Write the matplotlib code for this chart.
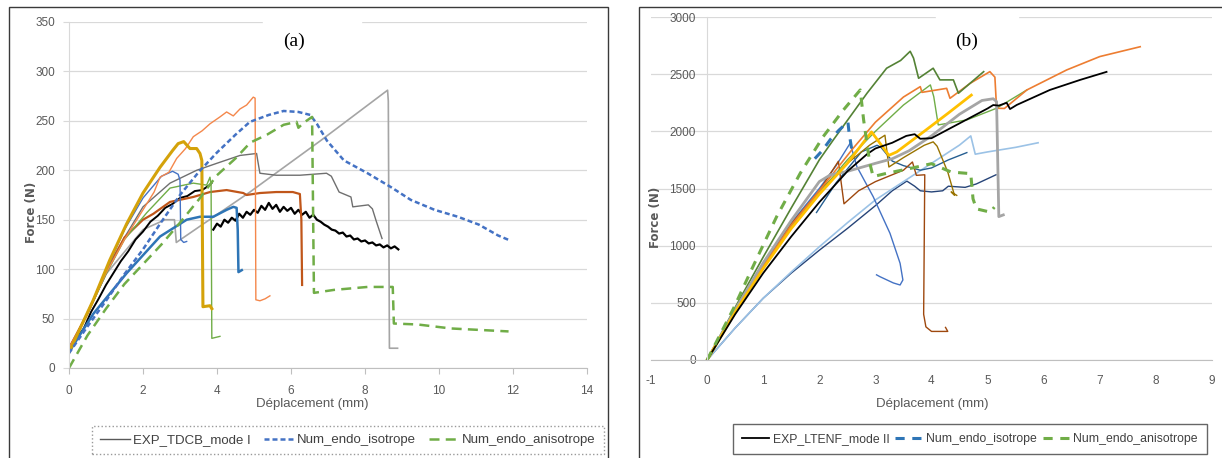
import matplotlib
matplotlib.use("Agg")
import matplotlib.pyplot as plt
from matplotlib.lines import Line2D
from matplotlib.patches import Rectangle

plt.rcParams["axes.unicode_minus"] = False

# ---------------- panel (a) : mode I, force (N) vs displacement (mm)
a_gold_x = [0, 0.3, 0.66, 1.1, 1.56, 2.0, 2.46, 2.8, 2.95, 3.1, 3.27, 3.45, 3.54, 3.59, 3.62, 3.81, 3.86]
a_gold_y = [16, 40, 69, 109, 146, 177, 203, 220, 227, 229, 222, 222, 217, 210, 62, 63, 60]

a_orange_x = [0, 0.5, 1.0, 1.5, 2.0, 2.3, 2.46, 2.7, 2.91, 3.15, 3.36, 3.6, 3.81, 4.08, 4.26, 4.44, 4.62, 4.8, 4.98, 5.03, 5.05, 5.16, 5.3, 5.43]
a_orange_y = [20, 55, 96, 130, 160, 178, 193, 198, 212, 222, 234, 240, 247, 254, 259, 255, 262, 266, 274, 273, 69, 68, 70, 73]

a_blue_x = [0, 0.5, 1.0, 1.5, 2.0, 2.5, 2.8, 2.95, 3.0, 3.02, 3.1, 3.18]
a_blue_y = [17, 55, 98, 140, 172, 194, 199, 196, 190, 130, 127, 128]

a_gray_x = [0, 0.5, 1.0, 1.5, 2.0, 2.73, 3.45, 3.99, 4.62, 5.07, 5.1, 5.16, 5.6, 6.24, 6.96, 7.09, 7.3, 7.62, 7.67, 8.09, 8.2, 8.3, 8.46]
a_gray_y = [20, 55, 95, 132, 163, 187, 200, 207, 215, 217, 210, 197, 195, 195, 197, 194, 178, 173, 163, 165, 161, 149, 131]

a_lgray_x = [0, 1.0, 2.0, 2.6, 2.85, 2.9, 4.89, 6.8, 8.61, 8.63, 8.66, 8.88]
a_lgray_y = [18, 95, 140, 150, 150, 127, 178, 230, 281, 270, 20, 20]

a_brown_x = [0, 0.5, 1.0, 1.5, 2.0, 2.28, 2.73, 3.36, 3.81, 4.26, 4.71, 4.8, 5.16, 5.6, 6.05, 6.24, 6.28, 6.3]
a_brown_y = [20, 55, 98, 132, 150, 156, 168, 173, 178, 180, 177, 175, 177, 178, 178, 176, 150, 84]

a_green_x = [0, 0.5, 1.0, 1.5, 2.1, 2.73, 3.36, 3.72, 3.81, 3.84, 3.86, 4.08]
a_green_y = [18, 55, 95, 130, 157, 182, 187, 185, 193, 185, 30, 32]

a_dblue_x = [0, 0.66, 1.56, 2.46, 3.18, 3.54, 3.9, 4.26, 4.44, 4.53, 4.56, 4.58, 4.67]
a_dblue_y = [16, 55, 96, 133, 150, 153, 153, 160, 163, 162, 140, 97, 99]

a_black1_x = [0, 0.2, 0.4, 0.6, 0.8, 1.0, 1.2, 1.4, 1.6, 1.8, 2.0, 2.2, 2.4, 2.6, 2.8, 3.0, 3.2, 3.4, 3.6, 3.8, 3.85]
a_black1_y = [15, 30, 40, 57, 70, 84, 96, 108, 118, 130, 138, 148, 154, 162, 166, 172, 174, 179, 180, 185, 187]

a_black2_x = [3.9, 4.0, 4.1, 4.2, 4.3, 4.4, 4.5, 4.6, 4.7, 4.8, 4.9, 5.0, 5.1, 5.2, 5.3, 5.4, 5.5,
              5.6, 5.7, 5.8, 5.9, 6.0, 6.1, 6.2, 6.3, 6.4, 6.5, 6.6, 6.7, 6.8, 6.9, 7.0, 7.1, 7.2,
              7.3, 7.4, 7.5, 7.6, 7.7, 7.8, 7.9, 8.0, 8.1, 8.2, 8.3, 8.4, 8.5, 8.6, 8.7, 8.8, 8.9]
a_black2_y = [140, 146, 143, 150, 147, 152, 149, 156, 152, 158, 155, 160, 157, 164, 160, 167, 161,
              165, 158, 163, 159, 162, 156, 160, 155, 158, 152, 155, 150, 148, 145, 143, 140, 139,
              136, 137, 133, 134, 130, 131, 128, 129, 126, 127, 124, 125, 122, 124, 121, 123, 120]

a_iso_x = [0, 0.5, 1.0, 1.5, 2.0, 2.5, 3.0, 3.5, 4.0, 4.5, 4.89, 5.4, 5.8, 6.2, 6.52, 6.7, 6.97, 7.43, 8.07, 8.7, 9.24, 9.88, 10.51, 11.08, 11.6, 11.92]
a_iso_y = [15, 42, 68, 95, 120, 148, 175, 198, 218, 236, 249, 256, 260, 259, 256, 247, 230, 210, 197, 183, 170, 160, 153, 145, 134, 129]

a_aniso_x = [0, 0.5, 1.0, 1.5, 2.0, 2.5, 3.0, 3.5, 4.0, 4.5, 4.9, 5.35, 5.8, 6.15, 6.2, 6.34, 6.57, 6.62, 7.16, 8.07, 8.75, 8.78, 9.43, 10.32, 11.88]
a_aniso_y = [0, 33, 60, 85, 105, 125, 147, 170, 195, 212, 228, 236, 246, 249, 243, 248, 254, 76, 79, 82, 82, 45, 44, 40, 37]

# ---------------- panel (b) : mode II
b_black_x = [0, 0.5, 1.0, 1.5, 2.0, 2.5, 2.85, 3.0, 3.3, 3.55, 3.7, 3.8, 4.0, 4.5, 5.0, 5.1, 5.2, 5.34, 5.4, 5.52, 6.11, 6.65, 7.12]
b_black_y = [0, 400, 760, 1080, 1380, 1650, 1800, 1850, 1900, 1960, 1975, 1935, 1940, 2070, 2200, 2230, 2225, 2250, 2195, 2231, 2362, 2450, 2520]

b_dgreen_x = [0, 0.5, 1.0, 1.5, 2.0, 2.25, 2.85, 3.2, 3.45, 3.62, 3.68, 3.77, 4.03, 4.15, 4.39, 4.48, 4.93]
b_dgreen_y = [0, 460, 900, 1330, 1750, 1925, 2333, 2552, 2620, 2700, 2640, 2464, 2552, 2450, 2450, 2333, 2522]

b_orange_x = [0, 0.5, 1.0, 1.5, 2.0, 2.6, 3.0, 3.5, 3.8, 3.83, 4.27, 4.33, 4.69, 5.04, 5.13, 5.16, 5.3, 5.7, 6.41, 7.0, 7.72]
b_orange_y = [0, 420, 820, 1180, 1480, 1850, 2080, 2300, 2391, 2341, 2376, 2289, 2420, 2522, 2474, 2202, 2200, 2362, 2537, 2654, 2740]

b_lgreen_x = [0, 0.5, 1.0, 1.5, 2.0, 2.5, 3.0, 3.5, 3.98, 4.04, 4.12, 4.63, 5.16, 5.7]
b_lgreen_y = [0, 420, 820, 1170, 1460, 1750, 2000, 2230, 2406, 2304, 2056, 2100, 2202, 2362]

b_yellow_x = [0, 0.5, 1.0, 1.5, 2.0, 2.5, 2.93, 3.0, 3.24, 3.38, 3.87, 4.3, 4.71]
b_yellow_y = [0, 420, 800, 1150, 1450, 1720, 1995, 1950, 1790, 1820, 2000, 2160, 2317]

b_gray_x = [0, 0.5, 1.0, 1.5, 2.0, 2.2, 2.5, 3.0, 3.3, 3.6, 4.0, 4.5, 4.9, 5.1, 5.16, 5.2, 5.28]
b_gray_y = [0, 440, 850, 1220, 1560, 1620, 1650, 1720, 1760, 1830, 1960, 2150, 2270, 2285, 2260, 1254, 1269]

b_lblue_x = [0, 0.5, 1.0, 1.5, 2.0, 2.5, 3.0, 3.5, 4.0, 4.5, 4.7, 4.78, 5.0, 5.5, 5.9]
b_lblue_y = [0, 280, 540, 770, 990, 1200, 1400, 1560, 1720, 1880, 1960, 1800, 1820, 1860, 1900]

b_navy_x = [0, 0.5, 1.0, 1.5, 2.0, 2.5, 3.0, 3.3, 3.56, 3.7, 3.8, 4.0, 4.2, 4.3, 4.6, 4.8, 5.15]
b_navy_y = [0, 280, 540, 760, 960, 1150, 1350, 1480, 1565, 1520, 1480, 1470, 1480, 1520, 1510, 1540, 1620]

b_mblue_x = [1.95, 2.3, 2.75, 3.03, 3.1, 3.3, 3.5, 3.8, 4.0, 4.3, 4.63]
b_mblue_y = [1290, 1550, 1820, 1878, 1860, 1740, 1700, 1660, 1680, 1750, 1814]

b_snap_x = [0, 0.5, 1.0, 1.5, 2.0, 2.3, 2.55, 2.67, 2.96, 3.26, 3.44, 3.49, 3.44, 3.32, 3.08, 3.02]
b_snap_y = [0, 430, 830, 1200, 1500, 1700, 1896, 1691, 1429, 1108, 846, 700, 656, 674, 729, 745]

b_brown_x = [0, 0.5, 1.0, 1.5, 2.0, 2.34, 2.44, 2.7, 3.0, 3.5, 3.66, 3.73, 3.88, 3.87, 3.86, 3.9, 4.0, 4.29, 4.25]
b_brown_y = [0, 430, 830, 1190, 1480, 1738, 1366, 1480, 1560, 1660, 1732, 1615, 1620, 1000, 400, 290, 250, 250, 285]

b_olive_x = [0, 0.5, 1.0, 1.5, 2.0, 2.5, 2.9, 3.17, 3.24, 3.5, 3.87, 4.03, 4.1, 4.29, 4.41, 4.35, 4.45]
b_olive_y = [0, 430, 820, 1180, 1480, 1720, 1880, 1966, 1688, 1770, 1878, 1908, 1870, 1644, 1440, 1470, 1440]

b_iso_x = [1.92, 2.05, 2.2, 2.35, 2.51, 2.53, 2.58]
b_iso_y = [1761, 1830, 1930, 2010, 2083, 1990, 1837]

b_aniso_x = [0, 0.47, 0.83, 1.24, 1.66, 2.07, 2.43, 2.73, 2.79, 2.9, 2.96, 3.2, 3.6, 4.0, 4.35, 4.7, 4.74, 4.8, 5.05, 5.12]
b_aniso_y = [0, 450, 830, 1254, 1633, 1954, 2187, 2362, 2100, 1721, 1604, 1633, 1673, 1717, 1644, 1630, 1410, 1322, 1293, 1337]

legend_a = ["EXP_TDCB_mode I", "Num_endo_isotrope", "Num_endo_anisotrope"]
legend_b = ["EXP_LTENF_mode II", "Num_endo_isotrope", "Num_endo_anisotrope"]

SANS = ["Liberation Sans", "DejaVu Sans"]
TXT = "#595959"
GRID = "#D9D9D9"

W, H = 1222, 458
fig = plt.figure(figsize=(W / 100, H / 100), dpi=100)


def px(x0, y0, x1, y1):
    # pixel box (top-left origin) -> figure fraction rect
    return [x0 / W, 1 - y1 / H, (x1 - x0) / W, (y1 - y0) / H]


axa = fig.add_axes(px(69, 22, 587, 368))
axb = fig.add_axes(px(651, 17, 1212, 360))

# panel (a) curves
axa.plot(a_lgray_x, a_lgray_y, color="#A5A5A5", lw=1.2)
axa.plot(a_gray_x, a_gray_y, color="#6F6F6F", lw=1.0)
axa.plot(a_black1_x, a_black1_y, color="black", lw=1.4)
axa.plot(a_black2_x, a_black2_y, color="black", lw=1.6)
axa.plot(a_brown_x, a_brown_y, color="#C0561A", lw=1.6)
axa.plot(a_green_x, a_green_y, color="#70AD47", lw=1.0)
axa.plot(a_blue_x, a_blue_y, color="#4472C4", lw=1.0)
axa.plot(a_orange_x, a_orange_y, color="#F4874B", lw=1.0)
axa.plot(a_dblue_x, a_dblue_y, color="#2E75B6", lw=1.8)
axa.plot(a_gold_x, a_gold_y, color="#D4A20A", lw=2.2)
axa.plot(a_iso_x, a_iso_y, color="#4472C4", lw=1.8, dashes=(2, 1.2))
axa.plot(a_aniso_x, a_aniso_y, color="#70AD47", lw=1.8, dashes=(4, 2.5))

# panel (b) curves
axb.plot(b_navy_x, b_navy_y, color="#264478", lw=1.0)
axb.plot(b_lblue_x, b_lblue_y, color="#9BC2E6", lw=1.2)
axb.plot(b_mblue_x, b_mblue_y, color="#255E91", lw=1.0)
axb.plot(b_snap_x, b_snap_y, color="#4472C4", lw=1.0)
axb.plot(b_brown_x, b_brown_y, color="#9E480E", lw=1.0)
axb.plot(b_olive_x, b_olive_y, color="#997300", lw=1.0)
axb.plot(b_lgreen_x, b_lgreen_y, color="#70AD47", lw=1.0)
axb.plot(b_orange_x, b_orange_y, color="#ED7D31", lw=1.2)
axb.plot(b_dgreen_x, b_dgreen_y, color="#548235", lw=1.2)
axb.plot(b_gray_x, b_gray_y, color="#A5A5A5", lw=2.0)
axb.plot(b_yellow_x, b_yellow_y, color="#FFC000", lw=2.0)
axb.plot(b_black_x, b_black_y, color="black", lw=1.3)
axb.plot(b_iso_x, b_iso_y, color="#2E75B6", lw=2.2, dashes=(3, 2.5))
axb.plot(b_aniso_x, b_aniso_y, color="#70AD47", lw=2.2, dashes=(3, 2.5))

# axes styling
axa.set_xlim(0, 14)
axa.set_ylim(0, 350)
axa.set_xticks(range(0, 15, 2))
axa.set_yticks(range(0, 351, 50))
axb.set_xlim(-1, 9)
axb.set_ylim(0, 3000)
axb.set_xticks(range(-1, 10))
axb.set_yticks(range(0, 3001, 500))
axb.spines["left"].set_position(("data", 0))

for ax in (axa, axb):
    ax.grid(axis="y", color=GRID, lw=0.9)
    ax.set_axisbelow(True)
    ax.spines["top"].set_visible(False)
    ax.spines["right"].set_visible(False)
    ax.spines["left"].set_color(GRID)
    ax.spines["bottom"].set_color("#BFBFBF")
    for lab in ax.get_xticklabels() + ax.get_yticklabels():
        lab.set_family(SANS)

axa.tick_params(axis="y", length=4, color=GRID, labelcolor=TXT, labelsize=8.5, pad=6)
axa.tick_params(axis="x", length=4, color="#BFBFBF", labelcolor=TXT, labelsize=8.5, pad=8)
axb.tick_params(axis="y", length=0, labelcolor=TXT, labelsize=8.5, pad=8)
axb.tick_params(axis="x", length=0, labelcolor=TXT, labelsize=8.5, pad=11)

# white patches behind the panel labels
axa.add_patch(Rectangle((5.24, 320), 2.65, 45, color="white", zorder=1.5, clip_on=False))
axb.add_patch(Rectangle((4.08, 2820), 1.46, 260, color="white", zorder=1.5, clip_on=False))

fig.text(294 / W, 1 - 41 / H, "(a)", family="Liberation Serif", fontsize=14, ha="center", va="center")
fig.text(967 / W, 1 - 41 / H, "(b)", family="Liberation Serif", fontsize=14, ha="center", va="center")

for cx in (312, 932):
    fig.text(cx / W, 1 - 404 / H, "Déplacement (mm)", family=SANS, fontsize=9.5,
             color=TXT, ha="center", va="center")
for cx, cy in ((31, 212), (656, 217)):
    fig.text(cx / W, 1 - cy / H, "Force (N)", fontsize=8.5, weight="bold", color=TXT,
             rotation=90, ha="center", va="center")

# legends
ha = [Line2D([], [], color="#595959", lw=1.0),
      Line2D([], [], color="#4472C4", lw=1.8, dashes=(2, 1.2)),
      Line2D([], [], color="#70AD47", lw=1.8, dashes=(4, 2.5))]
la = fig.legend(ha, legend_a, loc="center", bbox_to_anchor=(348 / W, 1 - 440 / H), ncol=3,
                prop={"family": SANS, "size": 9.5}, fancybox=False, edgecolor="#808080",
                handlelength=2.3, columnspacing=1.0, handletextpad=0.2, borderpad=0.6,
                labelcolor="#404040")
la.get_frame().set_linestyle(":")

hb = [Line2D([], [], color="black", lw=1.3),
      Line2D([], [], color="#2E75B6", lw=2.2, dashes=(3, 2.5)),
      Line2D([], [], color="#70AD47", lw=2.2, dashes=(3, 2.5))]
lb = fig.legend(hb, legend_b, loc="center", bbox_to_anchor=(970 / W, 1 - 439 / H), ncol=3,
                prop={"family": SANS, "size": 8.8}, fancybox=False, edgecolor="#404040",
                handlelength=2.2, columnspacing=0.5, handletextpad=0.3, borderpad=0.75,
                labelcolor="#404040")

# panel frames
fig.add_artist(Rectangle((8.6 / W, -0.02), (608 - 8.6) / W, 1.02 - 7 / H, transform=fig.transFigure,
                         fill=False, edgecolor="#3A3A3A", lw=1.0))
fig.add_artist(Rectangle((638.6 / W, -0.02), 0.5, 1.02 - 7 / H, transform=fig.transFigure,
                         fill=False, edgecolor="#3A3A3A", lw=1.0))

fig.savefig("out.png", dpi=100)
